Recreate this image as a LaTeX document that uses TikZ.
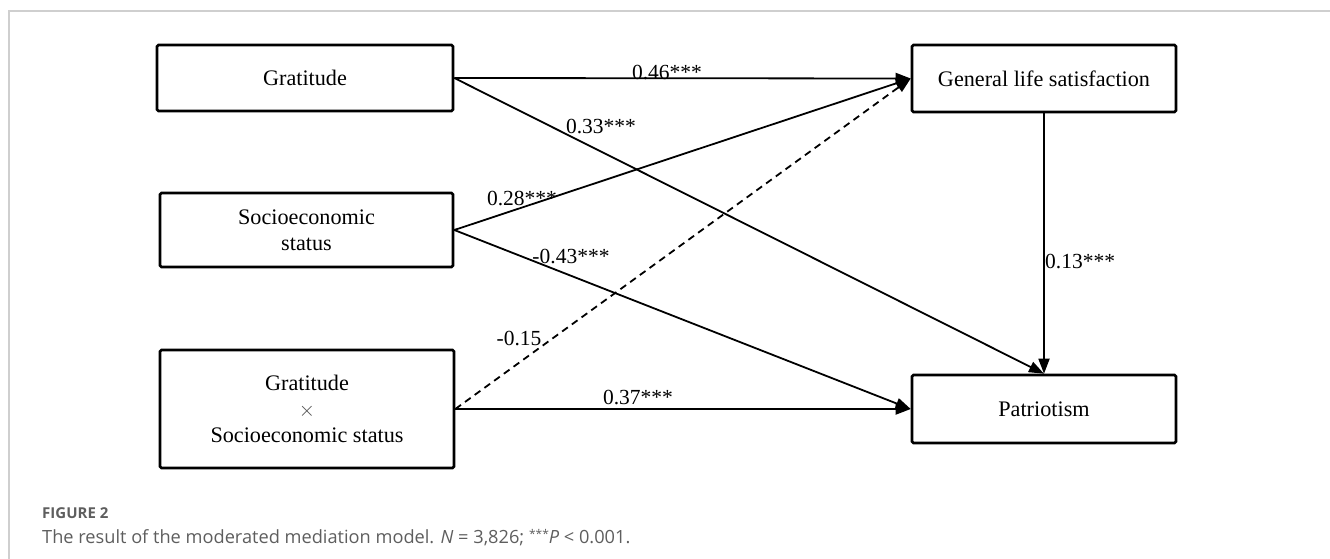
\documentclass[tikz,border=0pt]{standalone}
\usepackage{fontspec}
\setmainfont{Liberation Serif}
\newfontfamily\capfont{Open Sans}
\usetikzlibrary{arrows.meta}
\definecolor{framegray}{HTML}{CFCFCF}
\definecolor{capgray}{HTML}{5E5E5E}
\begin{document}
\begin{tikzpicture}[x=1pt,y=-1pt,
  box/.style={draw, line width=2.6pt, rounded corners=1.5pt, align=center,
    font=\fontsize{22.2}{26}\selectfont, inner sep=0pt},
  path/.style={line width=1.8pt, -{Triangle[length=15pt,width=11pt]}},
  dashpath/.style={path, dash pattern=on 7pt off 5pt},
  coef/.style={font=\fontsize{21.5}{26}\selectfont, inner sep=0pt}]
\useasboundingbox (0,0) rectangle (1330,558);
% page frame
\draw[framegray, line width=2pt] (8.5,560) -- (8.5,10.5) -- (1332,10.5);

% variables
\node[box, minimum width=296pt, minimum height=66pt] (grat) at (305,78) {Gratitude};
\node[box, minimum width=293pt, minimum height=74pt] (ses) at (306.5,230) {Socioeconomic\\status};
\node[box, minimum width=294pt, minimum height=118pt] (int) at (307,409)
  {Gratitude\\{\fontsize{20}{26}\selectfont\color{black!70}$\times$}\\Socioeconomic status};
\node[box, minimum width=264pt, minimum height=67pt] (gls) at (1044,78.5) {General life satisfaction};
\node[box, minimum width=264pt, minimum height=68pt] (pat) at (1044,409) {Patriotism};

% paths
\draw[path] (grat.east) -- (gls.west);
\draw[path] (grat.east) -- (pat.north);
\draw[path] (ses.east) -- (gls.west);
\draw[path] (ses.east) -- (pat.west);
\draw[dashpath] (int.east) -- (gls.west);
\draw[path] (int.east) -- (pat.west);
\draw[path] (gls.south) -- (pat.north);

% coefficients
\node[coef] (c1) at (667,72) {0.46***};
\node[coef] (c2) at (601,126) {0.33***};
\node[coef] (c3) at (522,198) {0.28***};
\node[coef] (c4) at (571,256) {-0.43***};
\node[coef] (c5) at (519,338) {-0.15};
\node[coef, anchor=west] (c7) at (1045,261) {0.13***};
\node[coef] (c6) at (638,397) {0.37***};

% caption
\node[anchor=base west, inner sep=0pt, text=capgray, font=\capfont\bfseries\fontsize{15}{18}\selectfont]
  (fig) at (42,518) {FIGURE 2};
\node[anchor=base west, inner sep=0pt, text=capgray, font=\capfont\fontsize{18.2}{22}\selectfont]
  (cap) at (42,543) {The result of the moderated mediation model. \textit{N} = 3,826; \raisebox{0.45ex}{\fontsize{12}{13}\selectfont ***}\textit{P} < 0.001.};
\end{tikzpicture}
\end{document}
